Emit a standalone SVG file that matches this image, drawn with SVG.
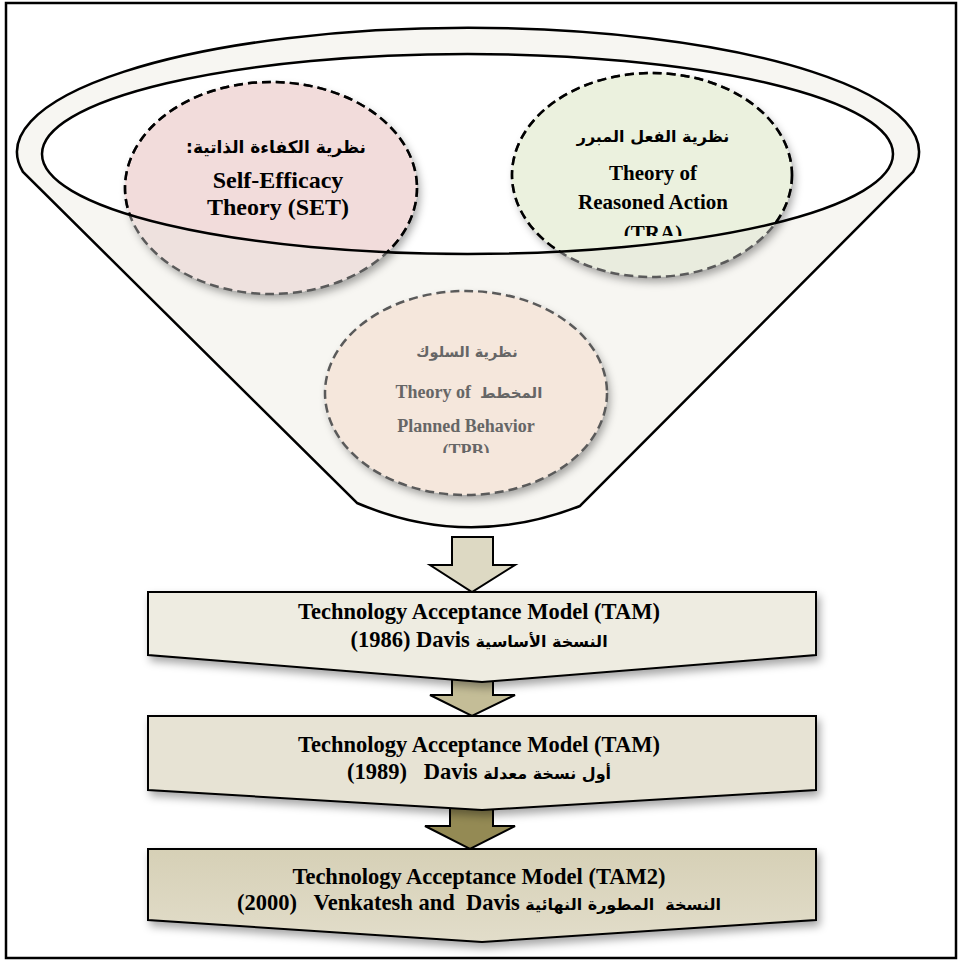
<svg xmlns="http://www.w3.org/2000/svg" width="958" height="963" viewBox="0 0 958 963">
<style>
.en{font-family:"Liberation Serif","DejaVu Sans",serif;font-weight:bold;fill:#000;text-anchor:middle}
.ar{font-family:"DejaVu Sans","Liberation Serif",sans-serif;font-weight:bold;fill:#000;text-anchor:middle}
.at{font-family:"DejaVu Sans","Liberation Serif",sans-serif;font-size:16px}
.grey{fill:#666}
.line{fill:none;stroke:#000;stroke-width:2.5}
.dashG{fill:none;stroke:#5a5a5a;stroke-width:2.5;stroke-dasharray:9 5}
.dashK{fill:none;stroke:#000;stroke-width:2.5;stroke-dasharray:9 5}
.box{stroke:#000;stroke-width:2}
.arrow{stroke:#000;stroke-width:2}
</style>
<defs>
<filter id="sh" x="-20%" y="-20%" width="140%" height="150%">
<feDropShadow dx="3" dy="5" stdDeviation="4" flood-color="#000" flood-opacity="0.35"/>
</filter>
<linearGradient id="g3" x1="0" y1="0" x2="0" y2="1">
<stop offset="0" stop-color="#d6d0b6"/>
<stop offset="1" stop-color="#e2ddca"/>
</linearGradient>
<clipPath id="inner"><ellipse cx="467.5" cy="154" rx="425.5" ry="100"/></clipPath>
<clipPath id="clipTRA"><rect x="500" y="60" width="300" height="176"/></clipPath>
<clipPath id="clipTPB"><rect x="320" y="280" width="300" height="173"/></clipPath>
</defs>

<rect x="6" y="3" width="950" height="955" fill="#fff" stroke="#000" stroke-width="2.5"/>

<g id="funnel">
<path d="M23,172 A451,124 0 1 1 913,172 L580,506 Q467,550 357,503 Z" fill="#f7f6f2" stroke="#000" stroke-width="2.5"/>
<ellipse cx="467.5" cy="154" rx="425.5" ry="100" fill="#fff"/>
</g>

<g id="set">
<ellipse cx="271" cy="188" rx="146" ry="106" fill="#eee1de" filter="url(#sh)"/>
<ellipse cx="271" cy="188" rx="146" ry="106" fill="#f2dcdb" clip-path="url(#inner)"/>
<ellipse cx="271" cy="188" rx="146" ry="106" class="dashG"/>
<ellipse cx="271" cy="188" rx="146" ry="106" class="dashK" clip-path="url(#inner)"/>
<text class="ar" x="276" y="153" font-size="17" direction="rtl">نظرية الكفاءة الذاتية:</text>
<text class="en" x="278" y="188" font-size="24">Self-Efficacy</text>
<text class="en" x="278" y="215" font-size="24">Theory (SET)</text>
</g>

<g id="tra">
<ellipse cx="652" cy="175" rx="140" ry="102" fill="#e9ecde" filter="url(#sh)"/>
<ellipse cx="652" cy="175" rx="140" ry="102" fill="#ebf1de" clip-path="url(#inner)"/>
<ellipse cx="652" cy="175" rx="140" ry="102" class="dashG"/>
<ellipse cx="652" cy="175" rx="140" ry="102" class="dashK" clip-path="url(#inner)"/>
<text class="ar" x="653" y="142" font-size="16" direction="rtl">نظرية الفعل المبرر</text>
<text class="en" x="653" y="180" font-size="21">Theory of</text>
<text class="en" x="653" y="209" font-size="21">Reasoned Action</text>
<text class="en" x="653" y="240" font-size="21" clip-path="url(#clipTRA)">(TRA)</text>
</g>

<g id="tpb">
<ellipse cx="466" cy="393" rx="141" ry="102" fill="#f5e7dc" filter="url(#sh)"/>
<ellipse cx="466" cy="393" rx="141" ry="102" class="dashG"/>
<text class="ar grey" x="467" y="357" font-size="14.5" direction="rtl">نظرية السلوك</text>
<text class="en grey" x="469" y="398" font-size="18" style="white-space:pre">Theory of  <tspan font-family="DejaVu Sans" font-size="15">المخطط</tspan></text>
<text class="en grey" x="466" y="432" font-size="18">Planned Behavior</text>
<text class="en grey" x="466" y="457" font-size="18" clip-path="url(#clipTPB)">(TPB)</text>
</g>

<ellipse cx="467.5" cy="154" rx="425.5" ry="100" class="line"/>

<g id="connectors">
<path class="arrow" fill="#ddd9c3" d="M452,537 H493 V565 H515 L472,592 L430,565 H452 Z"/>
<path class="arrow" fill="#c4bd97" d="M452,673 H493 V695 H515 L472,716 L430,695 H452 Z"/>
<path class="arrow" fill="#948a54" d="M450,805 H493 V826 H515 L470,849 L425,826 H450 Z"/>
</g>

<g id="tam1986">
<polygon class="box" fill="#eeece1" filter="url(#sh)" points="148,592 816,592 816,655 482,682 148,655"/>
<text class="en" x="479" y="619" font-size="22.5">Technology Acceptance Model (TAM)</text>
<text class="en" x="479" y="647" font-size="22.5">(1986) Davis <tspan class="at">النسخة الأساسية</tspan></text>
</g>

<g id="tam1989">
<polygon class="box" fill="#e7e3d4" filter="url(#sh)" points="148,716 816,716 816,790 482,810 148,790"/>
<text class="en" x="479" y="752" font-size="22.5">Technology Acceptance Model (TAM)</text>
<text class="en" x="479" y="779" font-size="22.5" style="white-space:pre">(1989)   Davis <tspan class="at">أول نسخة معدلة</tspan></text>
</g>

<g id="tam2">
<polygon class="box" fill="url(#g3)" filter="url(#sh)" points="148,849 816,849 816,920 482,942 148,920"/>
<text class="en" x="479" y="884" font-size="22.5">Technology Acceptance Model (TAM2)</text>
<text class="en" x="479" y="910" font-size="22.5" style="white-space:pre">(2000)   Venkatesh and  Davis <tspan class="at">النسخة  المطورة النهائية</tspan></text>
</g>
</svg>
